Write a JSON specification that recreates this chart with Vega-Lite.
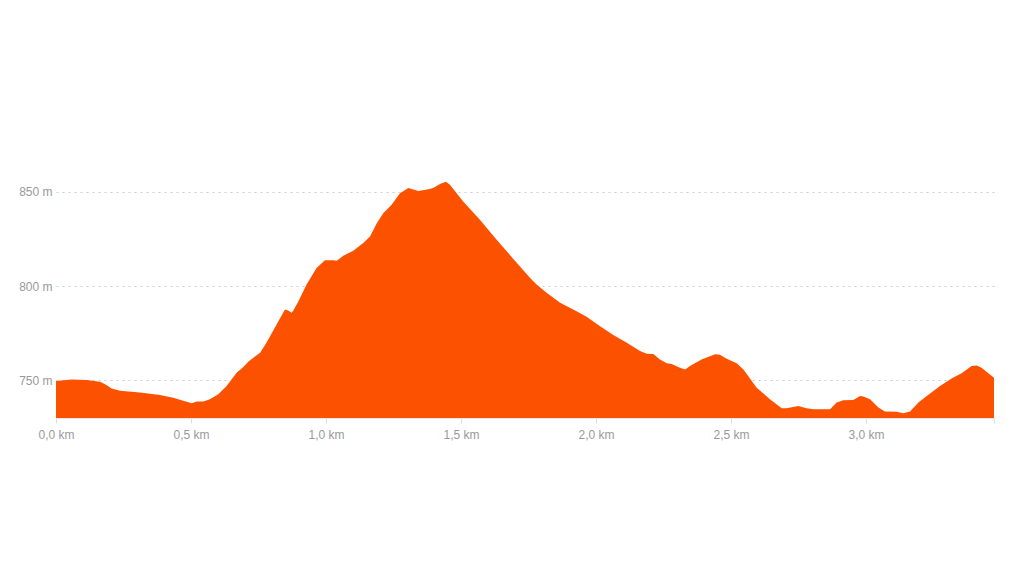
{
  "$schema": "https://vega.github.io/schema/vega-lite/v6.json",
  "width": 938,
  "height": 245,
  "autosize": {"type": "none"},
  "padding": {"left": 56, "top": 173, "right": 30, "bottom": 158},
  "background": "white",
  "config": {"view": {"stroke": null}, "font": "Liberation Sans"},
  "data": {"values": [
    {"km": 0.0, "ele": 749.6},
    {"km": 0.058, "ele": 750.4},
    {"km": 0.114, "ele": 750.1},
    {"km": 0.163, "ele": 749.3},
    {"km": 0.185, "ele": 747.6},
    {"km": 0.206, "ele": 745.6},
    {"km": 0.237, "ele": 744.4},
    {"km": 0.311, "ele": 743.5},
    {"km": 0.385, "ele": 742.2},
    {"km": 0.434, "ele": 740.8},
    {"km": 0.465, "ele": 739.4},
    {"km": 0.503, "ele": 737.8},
    {"km": 0.521, "ele": 738.7},
    {"km": 0.546, "ele": 738.7},
    {"km": 0.570, "ele": 740.0},
    {"km": 0.601, "ele": 742.6},
    {"km": 0.632, "ele": 747.0},
    {"km": 0.669, "ele": 754.0},
    {"km": 0.694, "ele": 757.0},
    {"km": 0.712, "ele": 759.9},
    {"km": 0.756, "ele": 764.6},
    {"km": 0.780, "ele": 770.0},
    {"km": 0.817, "ele": 779.6},
    {"km": 0.848, "ele": 787.6},
    {"km": 0.860, "ele": 787.0},
    {"km": 0.873, "ele": 785.8},
    {"km": 0.879, "ele": 787.0},
    {"km": 0.898, "ele": 792.0},
    {"km": 0.928, "ele": 800.8},
    {"km": 0.965, "ele": 809.6},
    {"km": 0.996, "ele": 813.7},
    {"km": 1.027, "ele": 813.7},
    {"km": 1.040, "ele": 813.5},
    {"km": 1.064, "ele": 816.1},
    {"km": 1.101, "ele": 818.8},
    {"km": 1.138, "ele": 822.8},
    {"km": 1.163, "ele": 826.3},
    {"km": 1.188, "ele": 833.4},
    {"km": 1.212, "ele": 838.7},
    {"km": 1.243, "ele": 843.1},
    {"km": 1.274, "ele": 849.3},
    {"km": 1.305, "ele": 852.0},
    {"km": 1.342, "ele": 850.5},
    {"km": 1.379, "ele": 851.4},
    {"km": 1.397, "ele": 852.0},
    {"km": 1.422, "ele": 854.2},
    {"km": 1.444, "ele": 855.4},
    {"km": 1.459, "ele": 853.7},
    {"km": 1.508, "ele": 844.9},
    {"km": 1.570, "ele": 835.2},
    {"km": 1.632, "ele": 824.6},
    {"km": 1.694, "ele": 814.4},
    {"km": 1.756, "ele": 804.3},
    {"km": 1.780, "ele": 800.8},
    {"km": 1.817, "ele": 796.4},
    {"km": 1.867, "ele": 791.1},
    {"km": 1.928, "ele": 786.7},
    {"km": 1.965, "ele": 783.7},
    {"km": 2.015, "ele": 778.7},
    {"km": 2.064, "ele": 774.0},
    {"km": 2.114, "ele": 769.9},
    {"km": 2.163, "ele": 765.5},
    {"km": 2.188, "ele": 764.1},
    {"km": 2.212, "ele": 764.0},
    {"km": 2.237, "ele": 761.1},
    {"km": 2.262, "ele": 759.0},
    {"km": 2.280, "ele": 758.7},
    {"km": 2.311, "ele": 756.7},
    {"km": 2.330, "ele": 755.8},
    {"km": 2.348, "ele": 757.6},
    {"km": 2.391, "ele": 761.1},
    {"km": 2.441, "ele": 763.8},
    {"km": 2.459, "ele": 763.6},
    {"km": 2.484, "ele": 761.5},
    {"km": 2.521, "ele": 759.0},
    {"km": 2.546, "ele": 755.8},
    {"km": 2.595, "ele": 746.1},
    {"km": 2.644, "ele": 740.0},
    {"km": 2.688, "ele": 735.2},
    {"km": 2.706, "ele": 735.2},
    {"km": 2.749, "ele": 736.4},
    {"km": 2.780, "ele": 735.2},
    {"km": 2.805, "ele": 734.7},
    {"km": 2.867, "ele": 734.7},
    {"km": 2.891, "ele": 738.2},
    {"km": 2.916, "ele": 739.4},
    {"km": 2.953, "ele": 739.6},
    {"km": 2.978, "ele": 741.7},
    {"km": 2.990, "ele": 741.4},
    {"km": 3.015, "ele": 740.0},
    {"km": 3.046, "ele": 735.6},
    {"km": 3.070, "ele": 733.4},
    {"km": 3.114, "ele": 733.3},
    {"km": 3.138, "ele": 732.5},
    {"km": 3.163, "ele": 733.4},
    {"km": 3.194, "ele": 738.2},
    {"km": 3.225, "ele": 741.7},
    {"km": 3.274, "ele": 747.0},
    {"km": 3.317, "ele": 750.9},
    {"km": 3.354, "ele": 753.7},
    {"km": 3.391, "ele": 757.6},
    {"km": 3.410, "ele": 757.8},
    {"km": 3.428, "ele": 756.7},
    {"km": 3.453, "ele": 753.7},
    {"km": 3.474, "ele": 751.4}
  ]},
  "mark": {"type": "area", "color": "#fc5200", "interpolate": "linear", "clip": true},
  "encoding": {
    "x": {
      "field": "km",
      "type": "quantitative",
      "scale": {"domain": [0, 3.474], "nice": false, "zero": false},
      "axis": {
        "title": null,
        "grid": false,
        "values": [0, 0.5, 1.0, 1.5, 2.0, 2.5, 3.0, 3.474],
        "labelExpr": "datum.value > 3.2 ? '' : replace(format(datum.value, '.1f'), '.', ',') + ' km'",
        "domainColor": "#e6e6e6",
        "domainWidth": 1,
        "tickColor": "#dddddd",
        "tickSize": 5,
        "labelColor": "#999999",
        "labelFontSize": 12,
        "labelPadding": 6,
        "labelFlush": false
      }
    },
    "y": {
      "field": "ele",
      "type": "quantitative",
      "scale": {"domain": [730, 860], "nice": false, "zero": false},
      "axis": {
        "title": null,
        "values": [750, 800, 850],
        "labelExpr": "datum.value + ' m'",
        "domain": false,
        "ticks": false,
        "grid": true,
        "gridColor": "#cccccc",
        "gridDash": [2, 4],
        "gridWidth": 1,
        "labelColor": "#999999",
        "labelFontSize": 12,
        "labelPadding": 4
      }
    }
  }
}
